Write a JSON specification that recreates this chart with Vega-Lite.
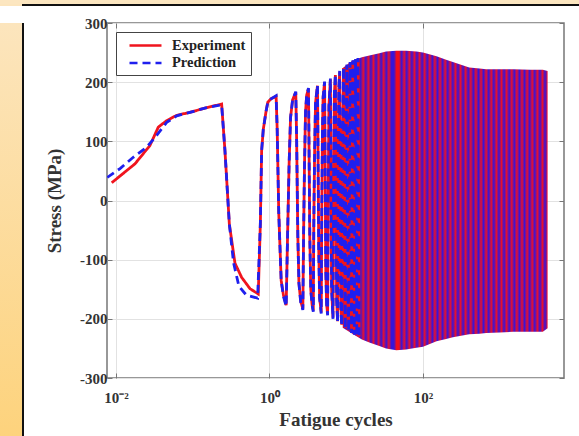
{
  "$schema": "https://vega.github.io/schema/vega-lite/v6.json",
  "background": "white",
  "padding": 0,
  "spacing": 0,
  "config": {
    "view": {"stroke": null},
    "font": "Liberation Serif",
    "legend": {
      "labelFont": "Liberation Serif", "labelFontWeight": "bold", "labelFontSize": 14.5, "labelColor": "#222",
      "fillColor": "white", "strokeColor": "#444", "padding": 5, "symbolStrokeWidth": 2.6,
      "symbolType": "M0,0H4.57", "symbolSize": 196, "labelOffset": 34, "rowPadding": 2.5
    }
  },
  "datasets": {
    "frame": [{"k": 1}],
    "band": [
      {"c": 9, "hi": 224, "lo": -215},
      {"c": 12, "hi": 236, "lo": -225},
      {"c": 16, "hi": 242, "lo": -235},
      {"c": 20, "hi": 245, "lo": -240},
      {"c": 27, "hi": 249, "lo": -246},
      {"c": 33, "hi": 252, "lo": -250},
      {"c": 45, "hi": 253, "lo": -253},
      {"c": 60, "hi": 253, "lo": -252},
      {"c": 82, "hi": 252, "lo": -249},
      {"c": 100, "hi": 250, "lo": -247},
      {"c": 150, "hi": 244, "lo": -238},
      {"c": 200, "hi": 238, "lo": -234},
      {"c": 245, "hi": 234, "lo": -231},
      {"c": 400, "hi": 225, "lo": -226},
      {"c": 545, "hi": 223, "lo": -225},
      {"c": 666, "hi": 222, "lo": -224},
      {"c": 1000, "hi": 222, "lo": -223},
      {"c": 1500, "hi": 222, "lo": -222},
      {"c": 2500, "hi": 221, "lo": -222},
      {"c": 3640, "hi": 221, "lo": -222},
      {"c": 4200, "hi": 219, "lo": -216}
    ],
    "curves": [
      {"series": "Experiment", "c": 0.0088, "s": 30},
      {"series": "Experiment", "c": 0.0177, "s": 62},
      {"series": "Experiment", "c": 0.0277, "s": 93},
      {"series": "Experiment", "c": 0.0356, "s": 124},
      {"series": "Experiment", "c": 0.0458, "s": 135},
      {"series": "Experiment", "c": 0.0618, "s": 144},
      {"series": "Experiment", "c": 0.092, "s": 149},
      {"series": "Experiment", "c": 0.152, "s": 157},
      {"series": "Experiment", "c": 0.238, "s": 163},
      {"series": "Experiment", "c": 0.263, "s": 84},
      {"series": "Experiment", "c": 0.3, "s": -40},
      {"series": "Experiment", "c": 0.355, "s": -106},
      {"series": "Experiment", "c": 0.434, "s": -130},
      {"series": "Experiment", "c": 0.557, "s": -149},
      {"series": "Experiment", "c": 0.714, "s": -158},
      {"series": "Experiment", "c": 0.76, "s": -40},
      {"series": "Experiment", "c": 0.79, "s": 84},
      {"series": "Experiment", "c": 0.83, "s": 120},
      {"series": "Experiment", "c": 0.9, "s": 150},
      {"series": "Experiment", "c": 0.95, "s": 166},
      {"series": "Experiment", "c": 1.05, "s": 172},
      {"series": "Experiment", "c": 1.22, "s": 176},
      {"series": "Experiment", "c": 1.26, "s": 120},
      {"series": "Experiment", "c": 1.32, "s": -20},
      {"series": "Experiment", "c": 1.42, "s": -135},
      {"series": "Experiment", "c": 1.52, "s": -160},
      {"series": "Experiment", "c": 1.65, "s": -177},
      {"series": "Experiment", "c": 1.72, "s": -60},
      {"series": "Experiment", "c": 1.8, "s": 60},
      {"series": "Experiment", "c": 1.88, "s": 140},
      {"series": "Experiment", "c": 2.0, "s": 170},
      {"series": "Experiment", "c": 2.2, "s": 183},
      {"series": "Experiment", "c": 2.26, "s": 100},
      {"series": "Experiment", "c": 2.34, "s": -60},
      {"series": "Experiment", "c": 2.42, "s": -140},
      {"series": "Experiment", "c": 2.55, "s": -170},
      {"series": "Experiment", "c": 2.72, "s": -183},
      {"series": "Experiment", "c": 2.78, "s": -60},
      {"series": "Experiment", "c": 2.86, "s": 60},
      {"series": "Experiment", "c": 2.95, "s": 150},
      {"series": "Experiment", "c": 3.05, "s": 178},
      {"series": "Experiment", "c": 3.22, "s": 189},
      {"series": "Experiment", "c": 3.27, "s": 100},
      {"series": "Experiment", "c": 3.35, "s": -60},
      {"series": "Experiment", "c": 3.45, "s": -150},
      {"series": "Experiment", "c": 3.58, "s": -175},
      {"series": "Experiment", "c": 3.72, "s": -186},
      {"series": "Experiment", "c": 3.78, "s": -40},
      {"series": "Experiment", "c": 3.87, "s": 80},
      {"series": "Experiment", "c": 3.98, "s": 165},
      {"series": "Experiment", "c": 4.22, "s": 194},
      {"series": "Experiment", "c": 4.28, "s": 100},
      {"series": "Experiment", "c": 4.38, "s": -80},
      {"series": "Experiment", "c": 4.5, "s": -165},
      {"series": "Experiment", "c": 4.72, "s": -189},
      {"series": "Experiment", "c": 4.8, "s": -20},
      {"series": "Experiment", "c": 4.9, "s": 120},
      {"series": "Experiment", "c": 5.0, "s": 175},
      {"series": "Experiment", "c": 5.22, "s": 200},
      {"series": "Experiment", "c": 5.3, "s": 80},
      {"series": "Experiment", "c": 5.42, "s": -120},
      {"series": "Experiment", "c": 5.55, "s": -175},
      {"series": "Experiment", "c": 5.72, "s": -192},
      {"series": "Experiment", "c": 5.82, "s": 0},
      {"series": "Experiment", "c": 5.95, "s": 160},
      {"series": "Experiment", "c": 6.22, "s": 205},
      {"series": "Experiment", "c": 6.32, "s": 40},
      {"series": "Experiment", "c": 6.45, "s": -150},
      {"series": "Experiment", "c": 6.72, "s": -198},
      {"series": "Experiment", "c": 6.85, "s": 40},
      {"series": "Experiment", "c": 7.0, "s": 180},
      {"series": "Experiment", "c": 7.22, "s": 212},
      {"series": "Experiment", "c": 7.35, "s": 20},
      {"series": "Experiment", "c": 7.5, "s": -170},
      {"series": "Experiment", "c": 7.72, "s": -204},
      {"series": "Experiment", "c": 7.85, "s": 50},
      {"series": "Experiment", "c": 8.0, "s": 190},
      {"series": "Experiment", "c": 8.22, "s": 218},
      {"series": "Experiment", "c": 8.35, "s": 20},
      {"series": "Experiment", "c": 8.5, "s": -180},
      {"series": "Experiment", "c": 8.72, "s": -210},
      {"series": "Experiment", "c": 8.87, "s": 60},
      {"series": "Experiment", "c": 9.22, "s": 224},
      {"series": "Experiment", "c": 9.37, "s": 0},
      {"series": "Experiment", "c": 9.72, "s": -215},
      {"series": "Experiment", "c": 9.87, "s": 60},
      {"series": "Experiment", "c": 10.22, "s": 229},
      {"series": "Experiment", "c": 10.37, "s": 0},
      {"series": "Experiment", "c": 10.72, "s": -219},
      {"series": "Experiment", "c": 11.22, "s": 233},
      {"series": "Experiment", "c": 11.72, "s": -222},
      {"series": "Experiment", "c": 12.22, "s": 236},
      {"series": "Experiment", "c": 12.72, "s": -225},
      {"series": "Experiment", "c": 13.22, "s": 238},
      {"series": "Experiment", "c": 13.72, "s": -228},
      {"series": "Experiment", "c": 14.22, "s": 240},
      {"series": "Experiment", "c": 14.72, "s": -230},
      {"series": "Prediction", "c": 0.0077, "s": 39},
      {"series": "Prediction", "c": 0.0113, "s": 54},
      {"series": "Prediction", "c": 0.0168, "s": 73},
      {"series": "Prediction", "c": 0.0251, "s": 90},
      {"series": "Prediction", "c": 0.0339, "s": 110},
      {"series": "Prediction", "c": 0.0458, "s": 132},
      {"series": "Prediction", "c": 0.0618, "s": 143},
      {"series": "Prediction", "c": 0.092, "s": 149},
      {"series": "Prediction", "c": 0.152, "s": 157},
      {"series": "Prediction", "c": 0.238, "s": 162},
      {"series": "Prediction", "c": 0.263, "s": 84},
      {"series": "Prediction", "c": 0.3, "s": -40},
      {"series": "Prediction", "c": 0.34, "s": -105},
      {"series": "Prediction", "c": 0.4, "s": -145},
      {"series": "Prediction", "c": 0.5, "s": -160},
      {"series": "Prediction", "c": 0.7, "s": -165},
      {"series": "Prediction", "c": 0.76, "s": -40},
      {"series": "Prediction", "c": 0.79, "s": 84},
      {"series": "Prediction", "c": 0.83, "s": 120},
      {"series": "Prediction", "c": 0.9, "s": 150},
      {"series": "Prediction", "c": 0.95, "s": 166},
      {"series": "Prediction", "c": 1.05, "s": 172},
      {"series": "Prediction", "c": 1.22, "s": 177},
      {"series": "Prediction", "c": 1.26, "s": 120},
      {"series": "Prediction", "c": 1.32, "s": -20},
      {"series": "Prediction", "c": 1.42, "s": -135},
      {"series": "Prediction", "c": 1.52, "s": -162},
      {"series": "Prediction", "c": 1.65, "s": -179},
      {"series": "Prediction", "c": 1.72, "s": -60},
      {"series": "Prediction", "c": 1.8, "s": 60},
      {"series": "Prediction", "c": 1.88, "s": 140},
      {"series": "Prediction", "c": 2.0, "s": 170},
      {"series": "Prediction", "c": 2.2, "s": 184},
      {"series": "Prediction", "c": 2.26, "s": 100},
      {"series": "Prediction", "c": 2.34, "s": -60},
      {"series": "Prediction", "c": 2.42, "s": -140},
      {"series": "Prediction", "c": 2.55, "s": -172},
      {"series": "Prediction", "c": 2.72, "s": -185},
      {"series": "Prediction", "c": 2.78, "s": -60},
      {"series": "Prediction", "c": 2.86, "s": 60},
      {"series": "Prediction", "c": 2.95, "s": 150},
      {"series": "Prediction", "c": 3.05, "s": 178},
      {"series": "Prediction", "c": 3.22, "s": 190},
      {"series": "Prediction", "c": 3.27, "s": 100},
      {"series": "Prediction", "c": 3.35, "s": -60},
      {"series": "Prediction", "c": 3.45, "s": -150},
      {"series": "Prediction", "c": 3.58, "s": -176},
      {"series": "Prediction", "c": 3.72, "s": -188},
      {"series": "Prediction", "c": 3.78, "s": -40},
      {"series": "Prediction", "c": 3.87, "s": 80},
      {"series": "Prediction", "c": 3.98, "s": 165},
      {"series": "Prediction", "c": 4.22, "s": 195},
      {"series": "Prediction", "c": 4.28, "s": 100},
      {"series": "Prediction", "c": 4.38, "s": -80},
      {"series": "Prediction", "c": 4.5, "s": -165},
      {"series": "Prediction", "c": 4.72, "s": -191},
      {"series": "Prediction", "c": 4.8, "s": -20},
      {"series": "Prediction", "c": 4.9, "s": 120},
      {"series": "Prediction", "c": 5.0, "s": 175},
      {"series": "Prediction", "c": 5.22, "s": 201},
      {"series": "Prediction", "c": 5.3, "s": 80},
      {"series": "Prediction", "c": 5.42, "s": -120},
      {"series": "Prediction", "c": 5.55, "s": -175},
      {"series": "Prediction", "c": 5.72, "s": -194},
      {"series": "Prediction", "c": 5.82, "s": 0},
      {"series": "Prediction", "c": 5.95, "s": 160},
      {"series": "Prediction", "c": 6.22, "s": 206},
      {"series": "Prediction", "c": 6.32, "s": 40},
      {"series": "Prediction", "c": 6.45, "s": -150},
      {"series": "Prediction", "c": 6.72, "s": -200},
      {"series": "Prediction", "c": 6.85, "s": 40},
      {"series": "Prediction", "c": 7.0, "s": 180},
      {"series": "Prediction", "c": 7.22, "s": 213},
      {"series": "Prediction", "c": 7.35, "s": 20},
      {"series": "Prediction", "c": 7.5, "s": -170},
      {"series": "Prediction", "c": 7.72, "s": -206},
      {"series": "Prediction", "c": 7.85, "s": 50},
      {"series": "Prediction", "c": 8.0, "s": 190},
      {"series": "Prediction", "c": 8.22, "s": 219},
      {"series": "Prediction", "c": 8.35, "s": 20},
      {"series": "Prediction", "c": 8.5, "s": -180},
      {"series": "Prediction", "c": 8.72, "s": -212},
      {"series": "Prediction", "c": 8.87, "s": 60},
      {"series": "Prediction", "c": 9.22, "s": 225},
      {"series": "Prediction", "c": 9.37, "s": 0},
      {"series": "Prediction", "c": 9.72, "s": -217},
      {"series": "Prediction", "c": 9.87, "s": 60},
      {"series": "Prediction", "c": 10.22, "s": 230},
      {"series": "Prediction", "c": 10.37, "s": 0},
      {"series": "Prediction", "c": 10.72, "s": -221},
      {"series": "Prediction", "c": 11.22, "s": 234},
      {"series": "Prediction", "c": 11.72, "s": -224},
      {"series": "Prediction", "c": 12.22, "s": 237},
      {"series": "Prediction", "c": 12.72, "s": -227},
      {"series": "Prediction", "c": 13.22, "s": 239},
      {"series": "Prediction", "c": 13.72, "s": -229},
      {"series": "Prediction", "c": 14.22, "s": 241},
      {"series": "Prediction", "c": 14.72, "s": -231}
    ]
  },
  "vconcat": [
    {"width": 579, "height": 4, "data": {"name": "frame"}, "mark": {"type": "rect", "color": "#fce6c0"}},
    {
      "spacing": 0,
      "hconcat": [
        {"width": 22, "height": 2, "data": {"name": "frame"}, "mark": {"type": "rect", "color": "#fce5bd"}},
        {"width": 557, "height": 2, "data": {"name": "frame"}, "mark": {"type": "rect", "color": "#111111"}}
      ]
    },
    {
      "spacing": 0,
      "hconcat": [
        {"width": 22, "height": 430, "data": {"name": "frame"},
         "mark": {"type": "rect", "color": {"gradient": "linear", "x1": 0, "y1": 0, "x2": 0, "y2": 1,
           "stops": [{"offset": 0, "color": "#fce5bd"}, {"offset": 1, "color": "#fdd27a"}]}}},
        {"width": 2, "height": 430, "data": {"name": "frame"}, "mark": {"type": "rect", "color": "#111111"}},
        {"width": 20, "height": 430, "data": {"name": "frame"}, "mark": {"type": "rect", "color": "white"}},
        {
          "width": 457,
          "height": 355,
          "view": {"stroke": "#777777", "strokeWidth": 1.5},
          "layer": [
            {
              "data": {"name": "band"},
              "mark": {"type": "area", "clip": true, "color": {"gradient": "linear", "x1": 0, "y1": 0, "x2": 1, "y2": 0, "stops": [
                {"offset": 0, "color": "#e8102c"}, {"offset": 0.0125, "color": "#3814d8"}, {"offset": 0.025, "color": "#e8102c"}, {"offset": 0.0375, "color": "#3814d8"},
                {"offset": 0.05, "color": "#e8102c"}, {"offset": 0.0625, "color": "#3814d8"}, {"offset": 0.075, "color": "#e8102c"}, {"offset": 0.0875, "color": "#3814d8"},
                {"offset": 0.1, "color": "#e8102c"}, {"offset": 0.1125, "color": "#3814d8"}, {"offset": 0.125, "color": "#e8102c"}, {"offset": 0.1375, "color": "#3814d8"},
                {"offset": 0.15, "color": "#e8102c"}, {"offset": 0.1625, "color": "#3814d8"}, {"offset": 0.175, "color": "#e8102c"}, {"offset": 0.1875, "color": "#3814d8"},
                {"offset": 0.2, "color": "#e8102c"}, {"offset": 0.2125, "color": "#3814d8"}, {"offset": 0.225, "color": "#e8102c"}, {"offset": 0.2375, "color": "#3814d8"},
                {"offset": 0.25, "color": "#3814d8"}, {"offset": 0.2625, "color": "#f00c1c"}, {"offset": 0.275, "color": "#f00c1c"}, {"offset": 0.2875, "color": "#3814d8"},
                {"offset": 0.3, "color": "#e8102c"}, {"offset": 0.3125, "color": "#3814d8"}, {"offset": 0.325, "color": "#e8102c"}, {"offset": 0.3375, "color": "#3814d8"},
                {"offset": 0.35, "color": "#e8102c"}, {"offset": 0.3625, "color": "#3814d8"}, {"offset": 0.375, "color": "#e8102c"}, {"offset": 0.3875, "color": "#3814d8"},
                {"offset": 0.4, "color": "#e8102c"}, {"offset": 0.4125, "color": "#3814d8"}, {"offset": 0.425, "color": "#e8102c"}, {"offset": 0.4375, "color": "#3814d8"},
                {"offset": 0.45, "color": "#e8102c"}, {"offset": 0.4625, "color": "#3814d8"}, {"offset": 0.475, "color": "#e8102c"}, {"offset": 0.4875, "color": "#3814d8"},
                {"offset": 0.5, "color": "#e8102c"}, {"offset": 0.5125, "color": "#3814d8"}, {"offset": 0.525, "color": "#e8102c"}, {"offset": 0.5375, "color": "#3814d8"},
                {"offset": 0.55, "color": "#e8102c"}, {"offset": 0.5625, "color": "#3814d8"}, {"offset": 0.575, "color": "#e8102c"}, {"offset": 0.5875, "color": "#3814d8"},
                {"offset": 0.6, "color": "#e8102c"}, {"offset": 0.6125, "color": "#3814d8"}, {"offset": 0.625, "color": "#e8102c"}, {"offset": 0.6375, "color": "#3814d8"},
                {"offset": 0.65, "color": "#e8102c"}, {"offset": 0.6625, "color": "#3814d8"}, {"offset": 0.675, "color": "#e8102c"}, {"offset": 0.6875, "color": "#3814d8"},
                {"offset": 0.7, "color": "#e8102c"}, {"offset": 0.7125, "color": "#3814d8"}, {"offset": 0.725, "color": "#e8102c"}, {"offset": 0.7375, "color": "#3814d8"},
                {"offset": 0.75, "color": "#e8102c"}, {"offset": 0.7625, "color": "#3814d8"}, {"offset": 0.775, "color": "#e8102c"}, {"offset": 0.7875, "color": "#3814d8"},
                {"offset": 0.8, "color": "#e8102c"}, {"offset": 0.8125, "color": "#3814d8"}, {"offset": 0.825, "color": "#e8102c"}, {"offset": 0.8375, "color": "#3814d8"},
                {"offset": 0.85, "color": "#e8102c"}, {"offset": 0.8625, "color": "#3814d8"}, {"offset": 0.875, "color": "#e8102c"}, {"offset": 0.8875, "color": "#3814d8"},
                {"offset": 0.9, "color": "#e8102c"}, {"offset": 0.9125, "color": "#3814d8"}, {"offset": 0.925, "color": "#e8102c"}, {"offset": 0.9375, "color": "#3814d8"},
                {"offset": 0.95, "color": "#e8102c"}, {"offset": 0.9625, "color": "#3814d8"}, {"offset": 0.975, "color": "#e8102c"}, {"offset": 0.9875, "color": "#3814d8"},
                {"offset": 1, "color": "#e8102c"}
              ]}},
              "encoding": {
                "x": {"field": "c", "type": "quantitative",
                  "scale": {"type": "log", "domain": [0.00764, 6870], "nice": false},
                  "axis": {"orient": "bottom", "values": [0.01, 1, 100], "title": "Fatigue cycles",
                    "labelExpr": "datum.value < 0.1 ? '10⁻²' : (datum.value < 10 ? '10⁰' : '10²')",
                    "labelFont": "Liberation Serif", "labelFontWeight": "bold", "labelFontSize": 15, "labelColor": "#333",
                    "labelPadding": 17, "titleFont": "Liberation Serif", "titleFontWeight": "bold", "titleFontSize": 19,
                    "titleColor": "#333", "titlePadding": 5, "grid": true, "gridColor": "#e2e2e2", "gridWidth": 1,
                    "domain": false, "ticks": true, "tickSize": -5, "tickColor": "#777", "tickWidth": 1}},
                "y": {"field": "hi", "type": "quantitative",
                  "scale": {"domain": [-300, 300], "nice": false},
                  "axis": {"orient": "left", "values": [-300, -200, -100, 0, 100, 200, 300], "title": "Stress (MPa)",
                    "labelExpr": "replace(datum.label, '−', '-')",
                    "labelFont": "Liberation Serif", "labelFontWeight": "bold", "labelFontSize": 15, "labelColor": "#333",
                    "labelPadding": 5, "titleFont": "Liberation Serif", "titleFontWeight": "bold", "titleFontSize": 19,
                    "titleColor": "#333", "titlePadding": 15, "grid": true, "gridColor": "#e2e2e2", "gridWidth": 1,
                    "domain": false, "ticks": true, "tickSize": -5, "tickColor": "#777", "tickWidth": 1}},
                "y2": {"field": "lo"}
              }
            },
            {
              "data": {"name": "curves"},
              "mark": {"type": "line", "strokeWidth": 2.8, "clip": true},
              "encoding": {
                "x": {"field": "c", "type": "quantitative",
                  "axis": {"orient": "top", "values": [0.01, 1, 100], "title": null, "labels": false, "grid": false,
                    "domain": false, "ticks": true, "tickSize": -5, "tickColor": "#777", "minExtent": 16, "maxExtent": 16}},
                "y": {"field": "s", "type": "quantitative",
                  "axis": {"orient": "right", "values": [-300, -200, -100, 0, 100, 200, 300], "title": null, "labels": false,
                    "grid": false, "domain": false, "ticks": true, "tickSize": -5, "tickColor": "#777"}},
                "color": {"field": "series", "type": "nominal",
                  "scale": {"domain": ["Experiment", "Prediction"], "range": ["#f0141e", "#1f1fee"]},
                  "legend": {"title": null, "orient": "none", "legendX": 116, "legendY": 32}},
                "strokeDash": {"field": "series", "type": "nominal",
                  "scale": {"domain": ["Experiment", "Prediction"], "range": [[1, 0], [8, 5]]},
                  "legend": {"title": null, "orient": "none", "legendX": 116, "legendY": 32}}
              }
            }
          ]
        }
      ]
    }
  ]
}
